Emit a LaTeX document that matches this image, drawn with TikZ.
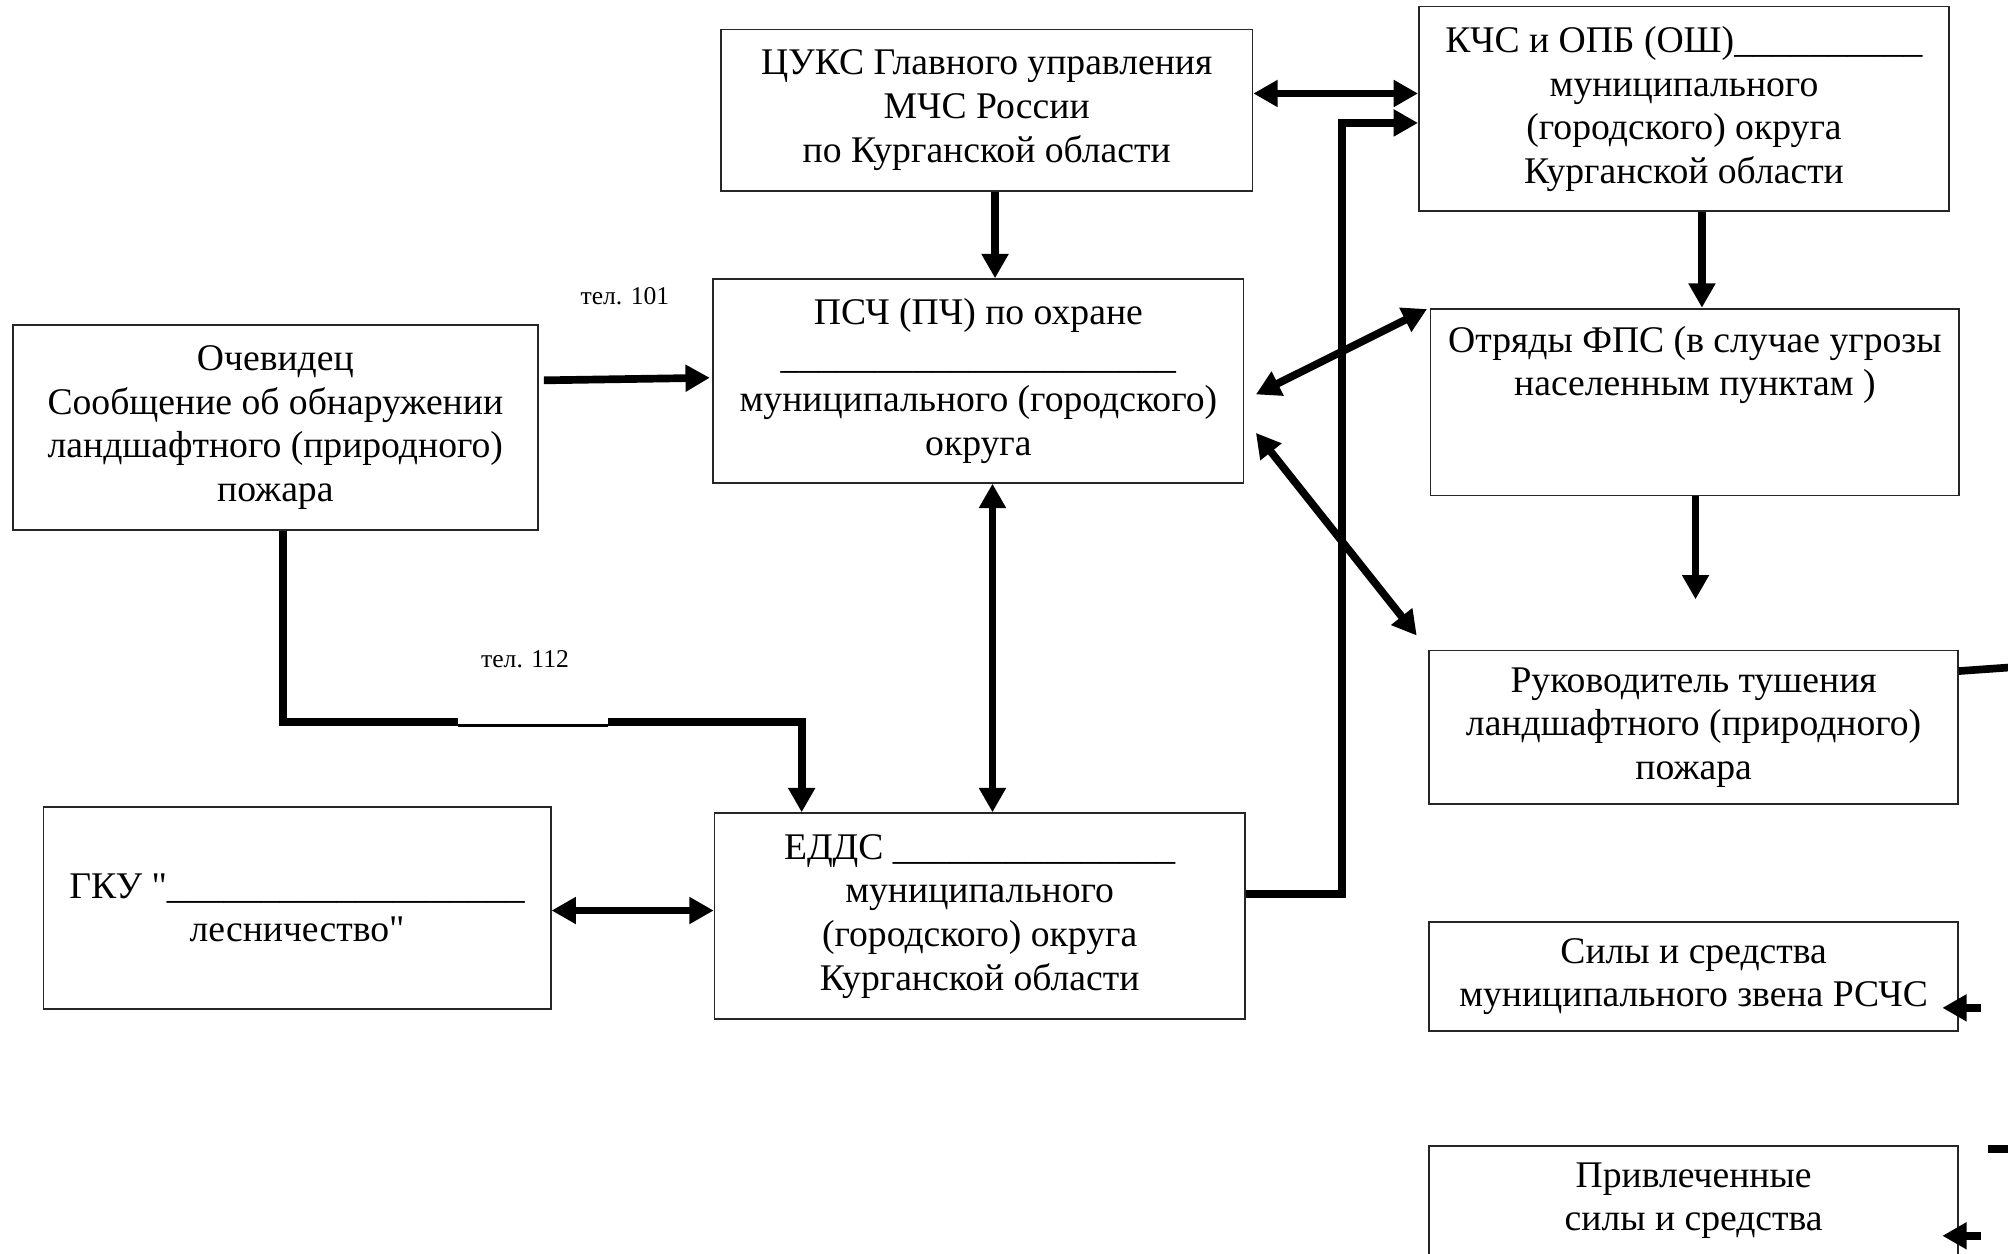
\documentclass[tikz,border=0pt]{standalone}
\usepackage{fontspec}
\setmainfont{Liberation Serif}[Ligatures=TeXOff]
\usetikzlibrary{arrows.meta,calc}
\begin{document}
\begin{tikzpicture}[x=0.5pt,y=-0.5pt,
  box/.style={draw=black!85,line width=0.7pt,inner sep=0pt,align=center,
    font=\fontsize{14.7}{17}\selectfont},
  txt/.style={inner sep=0pt,align=center,font=\fontsize{14.7}{17}\selectfont},
  con/.style={line width=3pt},
  arr/.style={con,-{Triangle[length=9.5pt,width=10pt]}},
  dbl/.style={con,{Triangle[length=9.5pt,width=10pt]}-{Triangle[length=9.5pt,width=10pt]}},
  lbl/.style={font=\fontsize{10}{12}\selectfont,inner sep=0pt}]
\useasboundingbox (0,0) rectangle (1568,979);
\clip (0,0) rectangle (1568,979);

% boxes
\node[box,minimum width=207.5pt,minimum height=63pt] (cuks) at (770.5,86)
  {ЦУКС Главного управления\\МЧС России\\по Курганской области};
\node[box,minimum width=207pt,minimum height=80pt] (kchs) at (1315,85)
  {КЧС и ОПБ (ОШ)\_\_\_\_\_\_\_\_\_\_\\муниципального\\(городского) округа\\Курганской области};
\node[box,minimum width=207pt,minimum height=79.5pt] (psch) at (764,297.5)
  {ПСЧ (ПЧ) по охране\\\_\_\_\_\_\_\_\_\_\_\_\_\_\_\_\_\_\_\_\_\_\\муниципального (городского)\\округа};
\node[box,minimum width=205pt,minimum height=80pt] (ochev) at (215,334)
  {Очевидец\\Сообщение об обнаружении\\ландшафтного (природного)\\пожара};
\node[box,minimum width=206.5pt,minimum height=73pt] (otr) at (1323.5,314) {};
\node[txt] (otrtext) at (1323.5,285) {Отряды ФПС (в случае угрозы\\населенным пунктам )};
\node[box,minimum width=206.5pt,minimum height=60pt] (ruk) at (1322.5,568)
  {Руководитель тушения\\ландшафтного (природного)\\пожара};
\node[box,minimum width=198pt,minimum height=79pt] (gku) at (232,709)
  {ГКУ "\_\_\_\_\_\_\_\_\_\_\_\_\_\_\_\_\_\_\_\\лесничество"};
\node[box,minimum width=207pt,minimum height=80.5pt] (edds) at (765,715.5)
  {ЕДДС \_\_\_\_\_\_\_\_\_\_\_\_\_\_\_\\муниципального\\(городского) округа\\Курганской области};
\node[box,minimum width=206.5pt,minimum height=42.5pt] (sily) at (1322.5,762.5)
  {Силы и средства\\муниципального звена РСЧС};
\node[box,minimum width=206.5pt,minimum height=42.5pt] (priv) at (1322.5,937.5)
  {Привлеченные\\силы и средства};

% labels
\node[lbl] (t101) at (488,231) {тел. 101};
\node[lbl] (t112) at (410,515) {тел. 112};

% connectors
\coordinate (a73) at (0,73);
\draw[dbl] (cuks.east |- a73) -- (kchs.west |- a73);
\coordinate (bend) at (1048,96);
\coordinate (a698) at (0,698);
\draw[arr] (edds.east |- a698) -| (bend) -- (kchs.west |- bend);
\coordinate (x777) at (777,0);
\draw[arr] (cuks.south -| x777) -- (psch.north -| x777);
\coordinate (x1329) at (1329,0);
\draw[arr] (kchs.south -| x1329) -- (otr.north -| x1329);
\draw[dbl] ($(psch.east)+(9,10.5)$) -- ($(otr.north west)+(-2,1)$);
\draw[dbl] ($(psch.east)+(9,40.5)$) -- ($(ruk.north west)+(-9,-11)$);
\coordinate (otrend) at (1324,468);
\draw[arr] (otr.south -| otrend) -- (otrend);
\draw[arr] ($(ochev.east)+(4,-37)$) -- ($(psch.west)+(-2,-2.5)$);
\coordinate (p1) at (221,564);
\coordinate (p2) at (358,564);
\coordinate (p3) at (358,566.5);
\coordinate (p4) at (475,566.5);
\coordinate (p5) at (475,564);
\coordinate (p6) at (626,564);
\draw[con] (ochev.south -| p1) -- (p1) -- (p2);
\draw[line width=1pt] (p3) -- (p4);
\draw[arr] (p5) -- (p6) -- (edds.north -| p6);
\coordinate (x775) at (775,0);
\draw[dbl] (psch.south -| x775) -- (edds.north -| x775);
\coordinate (a711) at (0,711);
\draw[dbl] (gku.east |- a711) -- (edds.west |- a711);
\coordinate (rukend) at (1572,521);
\draw[con] ($(ruk.east)+(0,-44)$) -- (rukend);
\draw[arr] ($(sily.east)+(17,24.5)$) -- ($(sily.east)+(-13,24.5)$);
\coordinate (privstub) at (1552,897);
\coordinate (privstubend) at (1572,897);
\draw[con] (privstub) -- (privstubend);
\draw[arr] ($(priv.east)+(17,27.5)$) -- ($(priv.east)+(-13,27.5)$);
\end{tikzpicture}
\end{document}
